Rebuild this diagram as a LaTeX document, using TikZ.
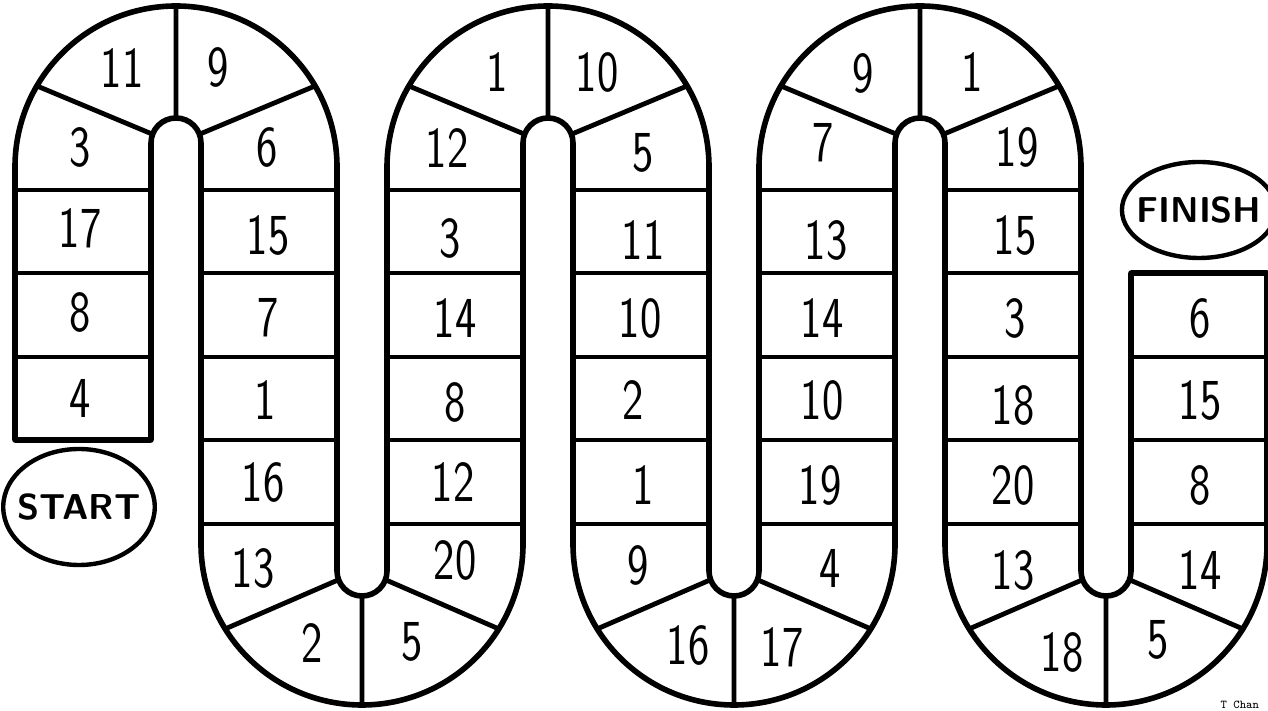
\documentclass[tikz,border=0pt]{standalone}
\usepackage{fontspec}
\usepackage{tikz}
\usetikzlibrary{shapes.geometric}
\newfontfamily\numfont[FakeStretch=0.78]{Latin Modern Sans}

\begin{document}
\begin{tikzpicture}[x=0.5pt, y=0.5pt,
    track/.style={line width=2.8pt, line join=round},
    rung/.style={line width=2.4pt, line cap=round},
    num/.style={font=\numfont\fontsize{29}{30}\selectfont},
    oval/.style={draw, ellipse, line width=2.2pt, inner xsep=-4pt, inner ysep=0pt,
                 font=\sffamily\bfseries\fontsize{18}{20}\selectfont}
  ]
  \useasboundingbox (0,0) rectangle (1268,711);

  % Outline of the snake track.
  \draw[track] (15,271) -- (15,544) arc[start angle=180, end angle=0, radius=161]
    -- (337,140) arc[start angle=180, end angle=360, radius=25]
    -- (387,544) arc[start angle=180, end angle=0, radius=161]
    -- (709,140) arc[start angle=180, end angle=360, radius=25]
    -- (759,544) arc[start angle=180, end angle=0, radius=161]
    -- (1081,140) arc[start angle=180, end angle=360, radius=25]
    -- (1131,438) -- (1267,438)
    -- (1267,167) arc[start angle=0, end angle=-180, radius=161]
    -- (945,568) arc[start angle=0, end angle=180, radius=25]
    -- (895,167) arc[start angle=0, end angle=-180, radius=161]
    -- (573,568) arc[start angle=0, end angle=180, radius=25]
    -- (523,167) arc[start angle=0, end angle=-180, radius=161]
    -- (201,568) arc[start angle=0, end angle=180, radius=25]
    -- (151,271) -- cycle;

  % Rungs, one draw per lane.
  \draw[rung] (15,521) -- (151,521) (15,438) -- (151,438) (15,354) -- (151,354);
  \draw[rung] (201,521) -- (337,521) (201,438) -- (337,438) (201,354) -- (337,354)
              (201,271) -- (337,271) (201,187) -- (337,187);
  \draw[rung] (387,521) -- (523,521) (387,438) -- (523,438) (387,354) -- (523,354)
              (387,271) -- (523,271) (387,187) -- (523,187);
  \draw[rung] (573,521) -- (709,521) (573,438) -- (709,438) (573,354) -- (709,354)
              (573,271) -- (709,271) (573,187) -- (709,187);
  \draw[rung] (759,521) -- (895,521) (759,438) -- (895,438) (759,354) -- (895,354)
              (759,271) -- (895,271) (759,187) -- (895,187);
  \draw[rung] (945,521) -- (1081,521) (945,438) -- (1081,438) (945,354) -- (1081,354)
              (945,271) -- (1081,271) (945,187) -- (1081,187);
  \draw[rung] (1131,354) -- (1267,354) (1131,271) -- (1267,271) (1131,187) -- (1267,187);

  % Top bends.
  \draw[rung] (176,593) -- (176,705) (37,625) -- (152,577) (315,625) -- (200,577);
  \draw[rung] (548,593) -- (548,705) (409,625) -- (524,577) (687,625) -- (572,577);
  \draw[rung] (920,593) -- (920,705) (781,625) -- (896,577) (1059,625) -- (944,577);
  % Bottom bends.
  \draw[rung] (362,115) -- (362,6) (225,82) -- (338,131) (499,82) -- (386,131);
  \draw[rung] (734,115) -- (734,6) (597,82) -- (710,131) (871,82) -- (758,131);
  \draw[rung] (1106,115) -- (1106,6) (969,82) -- (1082,131) (1243,82) -- (1130,131);

  % Lane 1 and first top bend.
  \node[num] (sq1) at (80,313) {4};
  \node[num] (sq2) at (80,399) {8};
  \node[num] (sq3) at (80,483) {17};
  \node[num] (sq4) at (80,564) {3};
  \node[num] (sq5) at (122,643) {11};
  \node[num] (sq6) at (218,644) {9};
  % Lane 2 and first bottom bend.
  \node[num] (sq7) at (267,564) {6};
  \node[num] (sq8) at (268,476) {15};
  \node[num] (sq9) at (268,393) {7};
  \node[num] (sq10) at (265,311) {1};
  \node[num] (sq11) at (263,229) {16};
  \node[num] (sq12) at (253,143) {13};
  \node[num] (sq13) at (312,68) {2};
  \node[num] (sq14) at (412,69) {5};
  % Lane 3 and second top bend.
  \node[num] (sq15) at (455,151) {20};
  \node[num] (sq16) at (453,229) {12};
  \node[num] (sq17) at (455,309) {8};
  \node[num] (sq18) at (455,393) {14};
  \node[num] (sq19) at (450,473) {3};
  \node[num] (sq20) at (447,563) {12};
  \node[num] (sq21) at (497,639) {1};
  \node[num] (sq22) at (597,639) {10};
  % Lane 4 and second bottom bend.
  \node[num] (sq23) at (643,558) {5};
  \node[num] (sq24) at (643,471) {11};
  \node[num] (sq25) at (640,393) {10};
  \node[num] (sq26) at (633,311) {2};
  \node[num] (sq27) at (643,226) {1};
  \node[num] (sq28) at (638,146) {9};
  \node[num] (sq29) at (688,66) {16};
  \node[num] (sq30) at (782,64) {17};
  % Lane 5 and third top bend.
  \node[num] (sq31) at (830,143) {4};
  \node[num] (sq32) at (820,226) {19};
  \node[num] (sq33) at (822,311) {10};
  \node[num] (sq34) at (822,393) {14};
  \node[num] (sq35) at (826,471) {13};
  \node[num] (sq36) at (823,568) {7};
  \node[num] (sq37) at (863,638) {9};
  \node[num] (sq38) at (972,639) {1};
  % Lane 6 and third bottom bend.
  \node[num] (sq39) at (1017,564) {19};
  \node[num] (sq40) at (1015,476) {15};
  \node[num] (sq41) at (1015,393) {3};
  \node[num] (sq42) at (1013,306) {18};
  \node[num] (sq43) at (1013,226) {20};
  \node[num] (sq44) at (1013,141) {13};
  \node[num] (sq45) at (1062,59) {18};
  \node[num] (sq46) at (1158,71) {5};
  % Lane 7.
  \node[num] (sq47) at (1200,141) {14};
  \node[num] (sq48) at (1200,226) {8};
  \node[num] (sq49) at (1200,311) {15};
  \node[num] (sq50) at (1200,393) {6};

  \node[oval, minimum width=69pt, minimum height=58pt] (start) at (79,204) {START};
  \node[oval, minimum width=67pt, minimum height=48pt] (finish) at (1199,501) {FINISH};
  \node[font=\ttfamily\fontsize{6}{7}\selectfont, anchor=base east] (credit) at (1266,2) {T Chan};
\end{tikzpicture}
\end{document}
